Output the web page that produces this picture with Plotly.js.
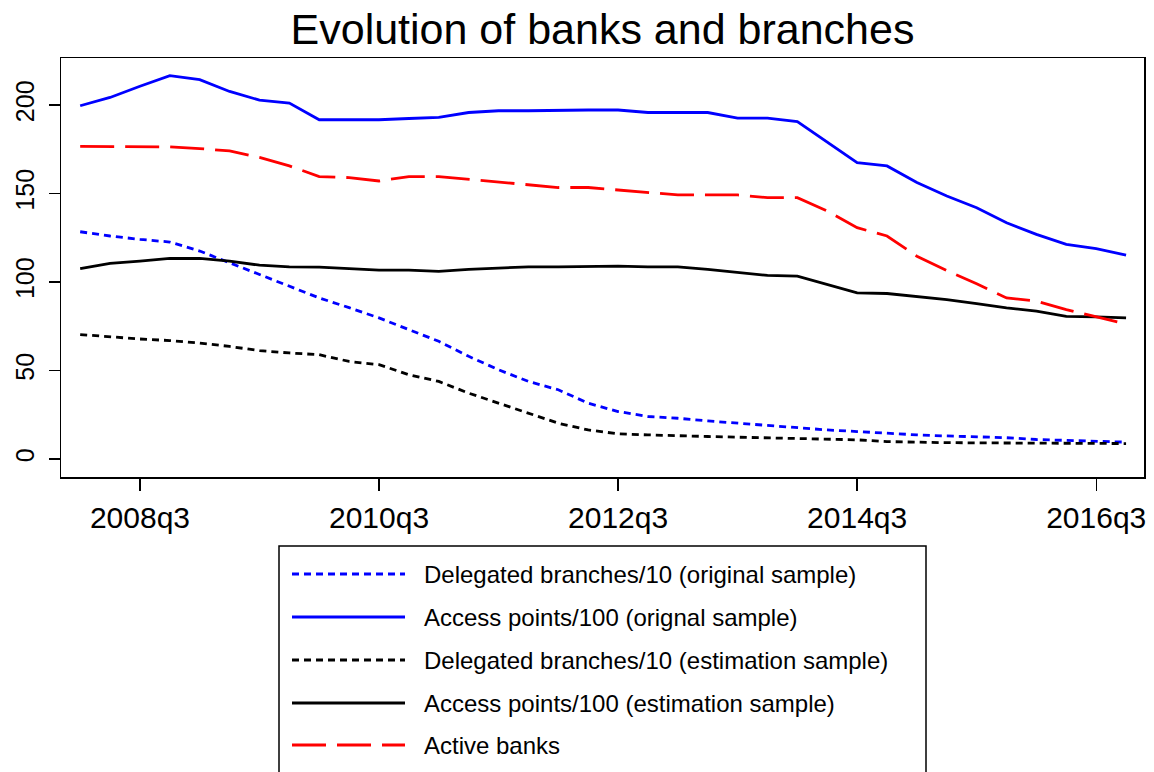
<!DOCTYPE html>
<html>
<head>
<meta charset="utf-8">
<script src="https://cdn.plot.ly/plotly-3.0.1.min.js"></script>
<style>
  html, body { margin: 0; padding: 0; background: #ffffff; }
  #chart { width: 1154px; height: 772px; }
</style>
</head>
<body>
<div id="chart"></div>
<script>
// ---- Data ----
const quarters = [
  "2008q1","2008q2","2008q3","2008q4","2009q1","2009q2","2009q3","2009q4",
  "2010q1","2010q2","2010q3","2010q4","2011q1","2011q2","2011q3","2011q4",
  "2012q1","2012q2","2012q3","2012q4","2013q1","2013q2","2013q3","2013q4",
  "2014q1","2014q2","2014q3","2014q4","2015q1","2015q2","2015q3","2015q4",
  "2016q1","2016q2","2016q3","2016q4"
];

const delegatedOriginal = [128.4, 126.0, 124.1, 122.6, 117.5, 110.9, 104.2, 97.6, 91.0, 85.5,
  79.7, 73.1, 66.5, 58.0, 50.4, 43.8, 39.1, 31.5, 26.8, 24.0,
  23.0, 21.5, 20.2, 19.3, 17.8, 16.4, 15.5, 14.5, 13.6, 13.0,
  12.5, 12.0, 11.0, 10.5, 10.0, 9.5];

const accessOriginal = [199.6, 204.3, 210.6, 216.6, 214.4, 207.7, 202.8, 201.1, 191.7, 191.7,
  191.7, 192.4, 193.0, 195.8, 196.8, 196.8, 197.2, 197.2, 197.2, 195.8,
  195.8, 195.8, 192.6, 192.6, 190.6, 179.2, 167.5, 165.6, 156.2, 148.6,
  142.0, 133.5, 126.9, 121.3, 118.8, 115.2];

const delegatedEstimation = [70.3, 68.9, 67.8, 66.9, 65.5, 63.6, 61.2, 59.9, 58.9, 55.1,
  53.3, 47.6, 43.8, 37.2, 31.5, 25.9, 20.2, 16.4, 14.2, 13.6,
  13.0, 12.7, 12.3, 12.0, 11.6, 11.2, 10.8, 9.8, 9.3, 9.2,
  9.1, 9.0, 9.0, 8.9, 8.8, 8.7];

const accessEstimation = [107.6, 110.5, 111.8, 113.3, 113.3, 111.8, 109.5, 108.6, 108.4, 107.5,
  106.7, 106.7, 106.0, 107.1, 108.0, 108.6, 108.6, 108.8, 109.0, 108.6,
  108.6, 107.1, 105.2, 103.7, 103.3, 98.6, 93.9, 93.5, 92.0, 90.1,
  87.8, 85.4, 83.5, 80.6, 80.3, 79.7];

const activeBanks = [176.6, 176.6, 176.6, 176.4, 175.4, 174.1, 170.4, 165.6, 159.6, 159.0,
  157.1, 159.6, 159.6, 158.1, 156.2, 154.7, 153.4, 153.4, 152.0, 150.5,
  149.2, 149.2, 149.2, 147.7, 147.7, 140.1, 130.7, 126.0, 114.6, 106.5,
  99.0, 91.0, 89.2, 84.4, 80.2, 76.3];

const xTickLabels = ["2008q3","2010q3","2012q3","2014q3","2016q3"];
const yTickValues = [0, 50, 100, 150, 200];

const seriesNames = [
  "Delegated branches/10 (original sample)",
  "Access points/100 (orignal sample)",
  "Delegated branches/10 (estimation sample)",
  "Access points/100 (estimation sample)",
  "Active banks"
];
const seriesValues = [delegatedOriginal, accessOriginal, delegatedEstimation, accessEstimation, activeBanks];

// ---- Styles ----
const seriesStyles = [
  {color: "#0000ff", dash: "7px,5px"},
  {color: "#0000ff", dash: "solid"},
  {color: "#000000", dash: "7px,5px"},
  {color: "#000000", dash: "solid"},
  {color: "#ff0000", dash: "34px,11px"}
];
const FONT = "Liberation Sans, Arial, Helvetica, sans-serif";
const LW = 2.8;

// plot area geometry in pixels
const W = 1154, H = 772;
const L = 61, R = 1144, T = 58, B = 477;
const px2x = px => (px - L) / (R - L);
const py2y = py => (B - py) / (B - T);

const traces = seriesValues.map((vals, k) => ({
  type: "scatter",
  mode: "lines",
  x: quarters,
  y: vals,
  name: seriesNames[k],
  line: {color: seriesStyles[k].color, dash: seriesStyles[k].dash, width: LW},
  showlegend: false,
  hoverinfo: "skip"
}));

// ---- Manual legend (R style box) ----
const legTop = 546, legLeft = 279, legRight = 926, legBottom = 800;
const entryY = [574, 617, 660, 703, 745];
const shapes = [{
  type: "rect", xref: "paper", yref: "paper",
  x0: px2x(legLeft), x1: px2x(legRight), y0: py2y(legBottom), y1: py2y(legTop),
  line: {color: "#000000", width: 1.5}, fillcolor: "rgba(0,0,0,0)"
}];
const annotations = [];
seriesNames.forEach((nm, k) => {
  shapes.push({
    type: "line", xref: "paper", yref: "paper",
    x0: px2x(292), x1: px2x(405), y0: py2y(entryY[k]), y1: py2y(entryY[k]),
    line: {color: seriesStyles[k].color, dash: seriesStyles[k].dash, width: LW}
  });
  annotations.push({
    xref: "paper", yref: "paper",
    x: px2x(422), y: py2y(entryY[k]),
    xanchor: "left", yanchor: "middle",
    text: nm, showarrow: false,
    font: {family: FONT, size: 24, color: "#000000"}
  });
});

const layout = {
  width: W, height: H,
  paper_bgcolor: "#ffffff", plot_bgcolor: "#ffffff",
  margin: {l: L, r: W - R, t: T, b: H - B, autoexpand: false},
  showlegend: false,
  title: {
    text: "Evolution of banks and branches",
    font: {family: FONT, size: 43, color: "#000000"},
    x: 0.5 * (L + R) / W, xanchor: "center",
    xref: "container", yref: "container",
    y: 1 - 44 / H, yanchor: "bottom"
  },
  xaxis: {
    type: "category",
    categoryorder: "array", categoryarray: quarters,
    range: [-0.642, 35.6],
    tickmode: "array", tickvals: xTickLabels, ticktext: xTickLabels,
    ticks: "outside", ticklen: 12, tickwidth: 1.3, tickcolor: "#000000",
    ticklabelstandoff: 1,
    tickfont: {family: FONT, size: 30, color: "#000000"},
    showline: true, mirror: true, linecolor: "#000000", linewidth: 1.5,
    showgrid: false, zeroline: false, fixedrange: true
  },
  yaxis: {
    range: [-10.2, 226.6],
    tickmode: "array", tickvals: yTickValues, ticktext: yTickValues.map(String),
    tickangle: -90,
    ticks: "outside", ticklen: 11, tickwidth: 1.3, tickcolor: "#000000",
    ticklabelstandoff: 5,
    tickfont: {family: FONT, size: 25, color: "#000000"},
    showline: true, mirror: true, linecolor: "#000000", linewidth: 1.5,
    showgrid: false, zeroline: false, fixedrange: true
  },
  shapes: shapes,
  annotations: annotations,
  font: {family: FONT, color: "#000000"}
};

Plotly.newPlot("chart", traces, layout, {staticPlot: true, displayModeBar: false});
</script>
</body>
</html>
